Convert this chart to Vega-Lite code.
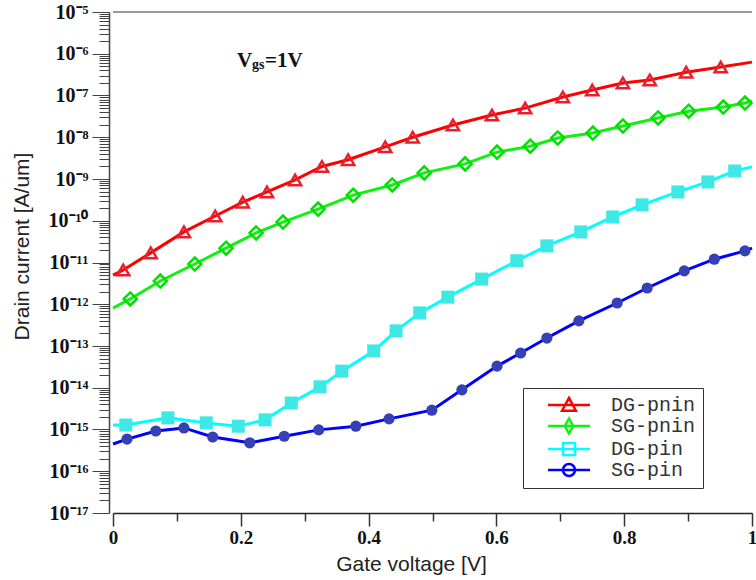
{
  "$schema": "https://vega.github.io/schema/vega-lite/v6.json",
  "width": 639,
  "height": 501,
  "autosize": "none",
  "padding": {"left": 113, "top": 12, "right": 4, "bottom": 67},
  "background": "white",
  "config": {
    "view": {"stroke": null},
    "axis": {"grid": false}
  },
  "data": {
    "values": [
      {"s": "DG-pnin", "v": 0.0, "i": 5.0e-12},
      {"s": "DG-pnin", "v": 0.016, "i": 6.6e-12},
      {"s": "DG-pnin", "v": 0.059, "i": 1.7e-11},
      {"s": "DG-pnin", "v": 0.111, "i": 5.4e-11},
      {"s": "DG-pnin", "v": 0.160, "i": 1.3e-10},
      {"s": "DG-pnin", "v": 0.203, "i": 2.8e-10},
      {"s": "DG-pnin", "v": 0.241, "i": 4.9e-10},
      {"s": "DG-pnin", "v": 0.285, "i": 9.5e-10},
      {"s": "DG-pnin", "v": 0.327, "i": 2.0e-9},
      {"s": "DG-pnin", "v": 0.368, "i": 2.9e-9},
      {"s": "DG-pnin", "v": 0.426, "i": 5.9e-9},
      {"s": "DG-pnin", "v": 0.469, "i": 1.0e-8},
      {"s": "DG-pnin", "v": 0.532, "i": 1.96e-8},
      {"s": "DG-pnin", "v": 0.593, "i": 3.4e-8},
      {"s": "DG-pnin", "v": 0.645, "i": 5.0e-8},
      {"s": "DG-pnin", "v": 0.704, "i": 9.2e-8},
      {"s": "DG-pnin", "v": 0.750, "i": 1.35e-7},
      {"s": "DG-pnin", "v": 0.798, "i": 2.0e-7},
      {"s": "DG-pnin", "v": 0.840, "i": 2.35e-7},
      {"s": "DG-pnin", "v": 0.897, "i": 3.6e-7},
      {"s": "DG-pnin", "v": 0.951, "i": 4.8e-7},
      {"s": "DG-pnin", "v": 1.0, "i": 6.3e-7},
      {"s": "SG-pnin", "v": 0.0, "i": 8.1e-13},
      {"s": "SG-pnin", "v": 0.027, "i": 1.34e-12},
      {"s": "SG-pnin", "v": 0.074, "i": 3.6e-12},
      {"s": "SG-pnin", "v": 0.128, "i": 9.2e-12},
      {"s": "SG-pnin", "v": 0.177, "i": 2.2e-11},
      {"s": "SG-pnin", "v": 0.224, "i": 5.1e-11},
      {"s": "SG-pnin", "v": 0.266, "i": 9.3e-11},
      {"s": "SG-pnin", "v": 0.321, "i": 1.9e-10},
      {"s": "SG-pnin", "v": 0.376, "i": 4.1e-10},
      {"s": "SG-pnin", "v": 0.437, "i": 7.2e-10},
      {"s": "SG-pnin", "v": 0.487, "i": 1.4e-9},
      {"s": "SG-pnin", "v": 0.551, "i": 2.3e-9},
      {"s": "SG-pnin", "v": 0.601, "i": 4.4e-9},
      {"s": "SG-pnin", "v": 0.653, "i": 6.1e-9},
      {"s": "SG-pnin", "v": 0.696, "i": 9.6e-9},
      {"s": "SG-pnin", "v": 0.751, "i": 1.26e-8},
      {"s": "SG-pnin", "v": 0.798, "i": 1.86e-8},
      {"s": "SG-pnin", "v": 0.853, "i": 2.9e-8},
      {"s": "SG-pnin", "v": 0.901, "i": 4.2e-8},
      {"s": "SG-pnin", "v": 0.955, "i": 5.3e-8},
      {"s": "SG-pnin", "v": 0.989, "i": 6.6e-8},
      {"s": "SG-pnin", "v": 1.0, "i": 7.4e-8},
      {"s": "DG-pin", "v": 0.0, "i": 1.28e-15},
      {"s": "DG-pin", "v": 0.020, "i": 1.28e-15},
      {"s": "DG-pin", "v": 0.086, "i": 1.9e-15},
      {"s": "DG-pin", "v": 0.146, "i": 1.44e-15},
      {"s": "DG-pin", "v": 0.196, "i": 1.2e-15},
      {"s": "DG-pin", "v": 0.238, "i": 1.7e-15},
      {"s": "DG-pin", "v": 0.279, "i": 4.3e-15},
      {"s": "DG-pin", "v": 0.324, "i": 1.05e-14},
      {"s": "DG-pin", "v": 0.358, "i": 2.5e-14},
      {"s": "DG-pin", "v": 0.408, "i": 7.6e-14},
      {"s": "DG-pin", "v": 0.443, "i": 2.3e-13},
      {"s": "DG-pin", "v": 0.480, "i": 6.2e-13},
      {"s": "DG-pin", "v": 0.524, "i": 1.48e-12},
      {"s": "DG-pin", "v": 0.577, "i": 4.0e-12},
      {"s": "DG-pin", "v": 0.632, "i": 1.1e-11},
      {"s": "DG-pin", "v": 0.679, "i": 2.5e-11},
      {"s": "DG-pin", "v": 0.732, "i": 5.4e-11},
      {"s": "DG-pin", "v": 0.782, "i": 1.23e-10},
      {"s": "DG-pin", "v": 0.828, "i": 2.4e-10},
      {"s": "DG-pin", "v": 0.884, "i": 4.9e-10},
      {"s": "DG-pin", "v": 0.931, "i": 8.5e-10},
      {"s": "DG-pin", "v": 0.973, "i": 1.55e-9},
      {"s": "DG-pin", "v": 1.0, "i": 1.95e-9},
      {"s": "SG-pin", "v": 0.0, "i": 4.5e-16},
      {"s": "SG-pin", "v": 0.022, "i": 5.9e-16},
      {"s": "SG-pin", "v": 0.067, "i": 9.2e-16},
      {"s": "SG-pin", "v": 0.111, "i": 1.09e-15},
      {"s": "SG-pin", "v": 0.156, "i": 6.6e-16},
      {"s": "SG-pin", "v": 0.214, "i": 4.8e-16},
      {"s": "SG-pin", "v": 0.268, "i": 6.9e-16},
      {"s": "SG-pin", "v": 0.322, "i": 9.8e-16},
      {"s": "SG-pin", "v": 0.380, "i": 1.2e-15},
      {"s": "SG-pin", "v": 0.432, "i": 1.8e-15},
      {"s": "SG-pin", "v": 0.499, "i": 2.9e-15},
      {"s": "SG-pin", "v": 0.546, "i": 8.9e-15},
      {"s": "SG-pin", "v": 0.601, "i": 3.3e-14},
      {"s": "SG-pin", "v": 0.638, "i": 6.8e-14},
      {"s": "SG-pin", "v": 0.679, "i": 1.55e-13},
      {"s": "SG-pin", "v": 0.729, "i": 4.0e-13},
      {"s": "SG-pin", "v": 0.789, "i": 1.07e-12},
      {"s": "SG-pin", "v": 0.836, "i": 2.45e-12},
      {"s": "SG-pin", "v": 0.894, "i": 6.3e-12},
      {"s": "SG-pin", "v": 0.941, "i": 1.2e-11},
      {"s": "SG-pin", "v": 0.989, "i": 1.9e-11},
      {"s": "SG-pin", "v": 1.0, "i": 2.2e-11}
    ]
  },
  "layer": [
    {
      "mark": {"type": "rule", "color": "#999", "strokeWidth": 2},
      "encoding": {
        "y": {"datum": 1e-5, "type": "quantitative"}
      }
    },
    {
      "transform": [{"filter": "datum.v === 0"}],
      "mark": {"type": "point", "filled": true, "opacity": 0, "strokeWidth": 2.5},
      "encoding": {
        "x": {"field": "v", "type": "quantitative"},
        "y": {"field": "i", "type": "quantitative"},
        "stroke": {"field": "s", "type": "nominal"},
        "shape": {"field": "s", "type": "nominal", "scale": {"domain": ["DG-pnin", "SG-pnin", "DG-pin", "SG-pin"], "range": ["M-3.5,0H3.5M-1.15,0.95L0,-1.2L1.15,0.95Z", "M-3.5,0H3.5M-0.7,0L0,-1.25L0.7,0L0,1.25Z", "M-3.5,0H3.5M-1,-1H1V1H-1Z", "M-3.5,0H3.5M-1,0A1,1,0,1,1,1,0A1,1,0,1,1,-1,0Z"]}},
        "fill": {
          "field": "s", "type": "nominal",
          "scale": {"domain": ["DG-pnin", "SG-pnin", "DG-pin", "SG-pin"], "range": ["rgba(0,0,0,0)", "rgba(0,0,0,0)", "#3ee8e4", "#3540b5"]},
          "legend": {
            "orient": "none", "legendX": 410, "legendY": 376,
            "title": null,
            "strokeColor": "#333", "fillColor": "white", "padding": 7, "cornerRadius": 0,
            "labelFont": "Liberation Mono", "labelFontSize": 20, "labelColor": "#333",
            "labelExpr": "datum.label + '  '",
            "symbolSize": 144, "symbolOffset": 29, "labelOffset": 32, "rowPadding": -3,
            "symbolStrokeWidth": 2.5, "symbolOpacity": 1
          }
        }
      }
    },
    {
      "mark": {"type": "line", "strokeWidth": 3},
      "encoding": {
        "x": {
          "field": "v", "type": "quantitative",
          "scale": {"domain": [0, 1], "nice": false, "zero": false},
          "axis": {
            "values": [0, 0.05, 0.1, 0.15, 0.2, 0.25, 0.3, 0.35, 0.4, 0.45, 0.5, 0.55, 0.6, 0.65, 0.7, 0.75, 0.8, 0.85, 0.9, 0.95, 1],
            "labelExpr": "abs(datum.value*5 - round(datum.value*5)) < 0.001 ? datum.value + '' : ''",
            "tickSize": {"condition": {"test": "abs(datum.value*5 - round(datum.value*5)) < 0.001", "value": 13}, "value": 8},
            "domainColor": "#222", "domainWidth": 1.5,
            "tickColor": "#333", "tickWidth": 1.5,
            "labelFont": "Liberation Serif", "labelFontWeight": "bold", "labelFontSize": 19, "labelColor": "#111",
            "labelPadding": 2, "labelOverlap": false, "labelFlush": false,
            "title": "Gate voltage [V]",
            "titleFont": "Liberation Sans", "titleFontSize": 21, "titleFontWeight": "normal", "titleColor": "#222",
            "titleX": 298, "titleY": 40
          }
        },
        "y": {
          "field": "i", "type": "quantitative",
          "scale": {"type": "log", "domain": [1e-17, 1e-5], "nice": false},
          "axis": {
            "offset": 4,
            "values": [1e-17,2e-17,3e-17,4e-17,5e-17,6e-17,7e-17,8e-17,9e-17,
                       1e-16,2e-16,3e-16,4e-16,5e-16,6e-16,7e-16,8e-16,9e-16,
                       1e-15,2e-15,3e-15,4e-15,5e-15,6e-15,7e-15,8e-15,9e-15,
                       1e-14,2e-14,3e-14,4e-14,5e-14,6e-14,7e-14,8e-14,9e-14,
                       1e-13,2e-13,3e-13,4e-13,5e-13,6e-13,7e-13,8e-13,9e-13,
                       1e-12,2e-12,3e-12,4e-12,5e-12,6e-12,7e-12,8e-12,9e-12,
                       1e-11,2e-11,3e-11,4e-11,5e-11,6e-11,7e-11,8e-11,9e-11,
                       1e-10,2e-10,3e-10,4e-10,5e-10,6e-10,7e-10,8e-10,9e-10,
                       1e-9,2e-9,3e-9,4e-9,5e-9,6e-9,7e-9,8e-9,9e-9,
                       1e-8,2e-8,3e-8,4e-8,5e-8,6e-8,7e-8,8e-8,9e-8,
                       1e-7,2e-7,3e-7,4e-7,5e-7,6e-7,7e-7,8e-7,9e-7,
                       1e-6,2e-6,3e-6,4e-6,5e-6,6e-6,7e-6,8e-6,9e-6,
                       1e-5],
            "labelExpr": "abs(log(datum.value)/LN10 - round(log(datum.value)/LN10)) < 0.01 ? '10⁻' + (-round(log(datum.value)/LN10) >= 10 ? '¹' : '') + ['⁰','¹','²','³','⁴','⁵','⁶','⁷','⁸','⁹'][(-round(log(datum.value)/LN10)) % 10] : ''",
            "tickSize": {"condition": {"test": "abs(log(datum.value)/LN10 - round(log(datum.value)/LN10)) < 0.01", "value": 17}, "value": 10},
            "domainColor": "#444", "domainWidth": 1.5,
            "tickColor": "#444", "tickWidth": 1,
            "labelFont": "Liberation Serif", "labelFontWeight": "bold", "labelFontSize": 20, "labelColor": "#111",
            "labelPadding": 4, "labelOverlap": false, "labelBound": false, "labelFlush": false,
            "title": "Drain current [A/um]",
            "titleFont": "Liberation Sans", "titleFontSize": 21, "titleFontWeight": "normal", "titleColor": "#222",
            "titleX": -77, "titleY": 234
          }
        },
        "stroke": {
          "field": "s", "type": "nominal",
          "scale": {"domain": ["DG-pnin", "SG-pnin", "DG-pin", "SG-pin"], "range": ["#ff0000", "#11f011", "#00ffff", "#0000ff"]}
        }
      }
    },
    {
      "transform": [{"filter": "datum.s === 'DG-pnin' && datum.v > 0.001 && datum.v < 0.999"}],
      "mark": {"type": "point", "shape": "triangle-up", "filled": false, "stroke": "#e8202e", "strokeWidth": 2.5, "size": 150, "opacity": 1},
      "encoding": {
        "x": {"field": "v", "type": "quantitative"},
        "y": {"field": "i", "type": "quantitative"}
      }
    },
    {
      "transform": [{"filter": "datum.s === 'SG-pnin' && datum.v > 0.001 && datum.v < 0.999"}],
      "mark": {"type": "point", "shape": "diamond", "filled": false, "stroke": "#00e000", "strokeWidth": 2.5, "size": 170, "opacity": 1},
      "encoding": {
        "x": {"field": "v", "type": "quantitative"},
        "y": {"field": "i", "type": "quantitative"}
      }
    },
    {
      "transform": [{"filter": "datum.s === 'DG-pin' && datum.v > 0.001 && datum.v < 0.999"}],
      "mark": {"type": "point", "shape": "square", "filled": true, "fill": "#3ee8e4", "size": 170, "opacity": 1},
      "encoding": {
        "x": {"field": "v", "type": "quantitative"},
        "y": {"field": "i", "type": "quantitative"}
      }
    },
    {
      "transform": [{"filter": "datum.s === 'SG-pin' && datum.v > 0.001 && datum.v < 0.999"}],
      "mark": {"type": "point", "shape": "circle", "filled": true, "fill": "#3540b5", "size": 125, "opacity": 1},
      "encoding": {
        "x": {"field": "v", "type": "quantitative"},
        "y": {"field": "i", "type": "quantitative"}
      }
    },
    {
      "data": {"values": [{"t": "V"}]},
      "mark": {"type": "text", "align": "left", "baseline": "alphabetic", "font": "Liberation Serif", "fontWeight": "bold", "fontSize": 21, "color": "#111"},
      "encoding": {
        "x": {"datum": 0.194, "type": "quantitative"},
        "y": {"datum": 4.82e-7, "type": "quantitative"},
        "text": {"field": "t"}
      }
    },
    {
      "data": {"values": [{"t": "gs"}]},
      "mark": {"type": "text", "align": "left", "baseline": "alphabetic", "dx": 15, "dy": 2, "font": "Liberation Serif", "fontWeight": "bold", "fontSize": 14, "color": "#111"},
      "encoding": {
        "x": {"datum": 0.194, "type": "quantitative"},
        "y": {"datum": 4.82e-7, "type": "quantitative"},
        "text": {"field": "t"}
      }
    },
    {
      "data": {"values": [{"t": "=1V"}]},
      "mark": {"type": "text", "align": "left", "baseline": "alphabetic", "dx": 28, "font": "Liberation Serif", "fontWeight": "bold", "fontSize": 21, "color": "#111"},
      "encoding": {
        "x": {"datum": 0.194, "type": "quantitative"},
        "y": {"datum": 4.82e-7, "type": "quantitative"},
        "text": {"field": "t"}
      }
    }
  ]
}
